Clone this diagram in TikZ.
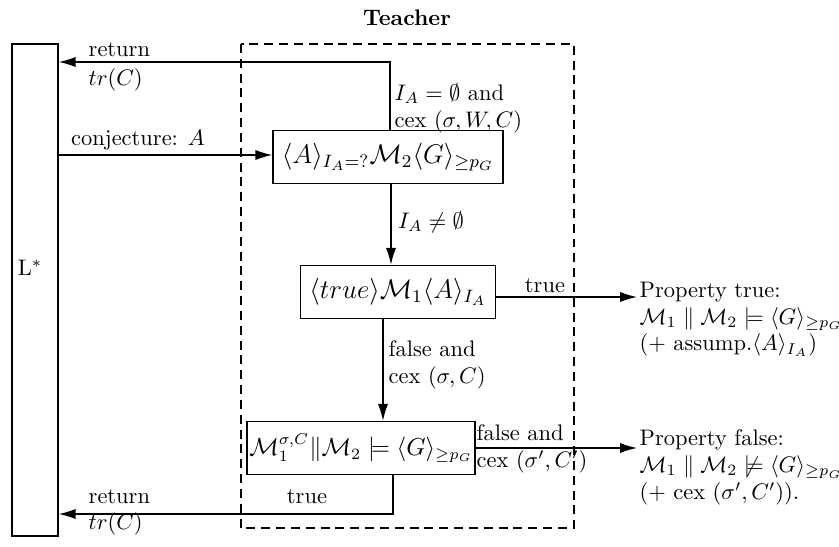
\documentclass[tikz,border=0pt]{standalone}
\usepackage{amsmath,amssymb}
\usetikzlibrary{arrows.meta}
\begin{document}
\begin{tikzpicture}[x=0.445pt,y=-0.445pt,
  box/.style={draw, line width=0.6pt, minimum height=23.6pt, inner xsep=4pt, font=\large},
  lbl/.style={inner sep=1pt, anchor=west},
  tip/.style={-{Latex[length=7.5pt,width=4.5pt]}, line width=0.6pt}]
\useasboundingbox (0,0) rectangle (839,547);
\node[font=\bfseries] (teacher) at (407,18) {Teacher};
\draw[dash pattern=on 4pt off 2.6pt, line width=0.6pt] (241,44) rectangle (574,528);
\node[draw, line width=0.6pt, minimum width=20.5pt, minimum height=219pt, inner sep=0pt] (lstar) at (35,290) {};
\node (lname) at (30,268) {L$^*$};
\node[box] (query) at (388,157) {$\langle A\rangle_{I_A=?}\mathcal{M}_2\langle G\rangle_{\geq p_G}$};
\node[box] (check) at (398,292) {$\langle true\rangle\mathcal{M}_1\langle A\rangle_{I_A}$};
\node[box, inner xsep=1pt, font=\fontsize{10.5}{13}\selectfont] (cex) at (361,448) {$\mathcal{M}_1^{\sigma,C}\|\mathcal{M}_2 \models \langle G\rangle_{\geq p_G}$};
\node[align=left, anchor=north west, inner sep=1pt] (ptrue) at (637,279) {Property true:\\$\mathcal{M}_1 \parallel \mathcal{M}_2 \models \langle G\rangle_{\geq p_G}$\\(+ assump.$\langle A\rangle_{I_A}$)};
\node[align=left, anchor=north west, inner sep=1pt] (pfalse) at (637,427) {Property false:\\$\mathcal{M}_1 \parallel \mathcal{M}_2 \not\models \langle G\rangle_{\geq p_G}$\\(+ cex $(\sigma',C')$).};
% connectors
\coordinate (rtop) at (390,62);
\draw[tip] (query.north -| rtop) -- (rtop) -- (rtop -| lstar.east);
\draw[tip] (lstar.east |- 0,155) -- (query.west |- 0,155);
\draw[tip] (query.south -| 391,0) -- (check.north -| 391,0);
\draw[tip] (check.east |- 0,297) -- (ptrue.west |- 0,297);
\draw[tip] (check.south -| 383,0) -- (cex.north -| 383,0);
\draw[tip] (cex.east) -- (cex.east -| pfalse.west);
\coordinate (rbot) at (393,514);
\draw[tip] (cex.south -| rbot) -- (rbot) -- (rbot -| lstar.east);
% labels
\node[lbl] (ret1) at (86,50) {return};
\node[lbl] (tr1) at (86,80) {$tr(C)$};
\node[lbl, align=left] (empty) at (392,108) {$I_A=\emptyset$ and\\cex $(\sigma,W,C)$};
\node (conj) at (138,140) {conjecture: $A$};
\node (nonempty) at (431,222) {$I_A\neq\emptyset$};
\node (ttrue) at (545,286) {true};
\node[lbl, align=left] (fcex) at (386,365) {false and\\cex $(\sigma,C)$};
\node[lbl, align=left] (ffalse) at (474,449) {false and\\cex $(\sigma',C')$};
\node (btrue) at (307,497) {true};
\node[lbl] (ret2) at (86,497) {return};
\node[lbl] (tr2) at (86,524) {$tr(C)$};
\end{tikzpicture}
\end{document}
